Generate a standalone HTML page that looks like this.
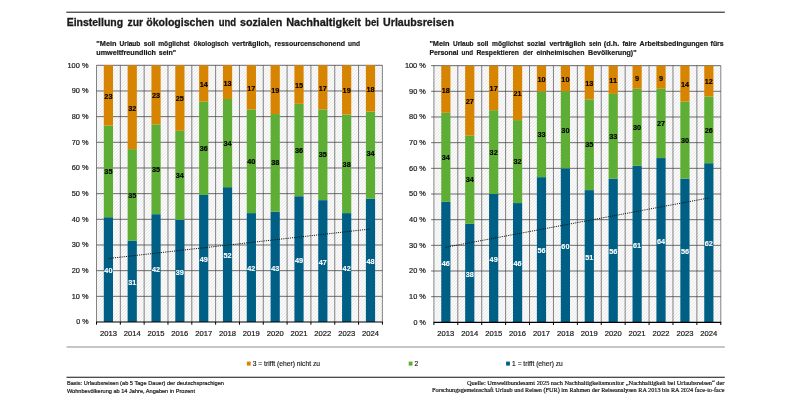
<!DOCTYPE html>
<html lang="de">
<head>
<meta charset="utf-8">
<title>Einstellung zur ökologischen und sozialen Nachhaltigkeit bei Urlaubsreisen</title>
<style>
html,body{margin:0;padding:0;background:#fff;}
body{width:800px;height:400px;overflow:hidden;}
svg{display:block;}
text{font-family:"Liberation Sans",sans-serif;fill:#1a1a1a;}
.title{font-size:10.9px;font-weight:bold;stroke:#1a1a1a;stroke-width:0.3px;}
.sub{font-size:7.6px;font-weight:bold;stroke:#1a1a1a;stroke-width:0.22px;}
.yl{font-size:7.1px;text-anchor:end;stroke:#1a1a1a;stroke-width:0.2px;}
.xl{font-size:7.5px;text-anchor:middle;stroke:#1a1a1a;stroke-width:0.2px;}
.dl{font-size:7.3px;font-weight:bold;text-anchor:middle;fill:#000;stroke:#000;stroke-width:0.15px;}
.dl.w{fill:#fff;stroke:#fff;stroke-width:0.1px;}
.lg{font-size:6.7px;stroke:#1a1a1a;stroke-width:0.15px;}
.fl{font-size:5.5px;stroke:#1a1a1a;stroke-width:0.2px;}
.fr{font-size:5.8px;stroke:#1a1a1a;stroke-width:0.2px;font-family:"Liberation Serif",serif;}
</style>
</head>
<body>
<svg width="800" height="400" viewBox="0 0 800 400">
<defs>
<pattern id="hatch" width="2.2" height="2.2" patternUnits="userSpaceOnUse" patternTransform="rotate(-45)">
<rect width="2.2" height="2.2" fill="#fbfbfb"/>
<rect width="2.2" height="0.7" fill="#e6e6e6"/>
</pattern>
</defs>
<rect width="800" height="400" fill="#fff"/>
<line x1="66.3" y1="12.2" x2="724.8" y2="12.2" stroke="#000" stroke-width="0.95"/>
<g class="title"><text x="66.7" y="25.6" textLength="56.4" lengthAdjust="spacingAndGlyphs">Einstellung</text> <text x="127.5" y="25.6" textLength="15.6" lengthAdjust="spacingAndGlyphs">zur</text> <text x="146.3" y="25.6" textLength="67.8" lengthAdjust="spacingAndGlyphs">ökologischen</text> <text x="218.7" y="25.6" textLength="17.5" lengthAdjust="spacingAndGlyphs">und</text> <text x="240" y="25.6" textLength="42.2" lengthAdjust="spacingAndGlyphs">sozialen</text> <text x="286.2" y="25.6" textLength="74.8" lengthAdjust="spacingAndGlyphs">Nachhaltigkeit</text> <text x="365" y="25.6" textLength="14" lengthAdjust="spacingAndGlyphs">bei</text> <text x="383.1" y="25.6" textLength="70.9" lengthAdjust="spacingAndGlyphs">Urlaubsreisen</text></g>
<g class="sub"><text x="96.3" y="45.6" textLength="20.2" lengthAdjust="spacingAndGlyphs">&quot;Mein</text> <text x="119.6" y="45.6" textLength="20.8" lengthAdjust="spacingAndGlyphs">Urlaub</text> <text x="143.8" y="45.6" textLength="11.4" lengthAdjust="spacingAndGlyphs">soll</text> <text x="158.2" y="45.6" textLength="31.4" lengthAdjust="spacingAndGlyphs">möglichst</text> <text x="193.6" y="45.6" textLength="34.9" lengthAdjust="spacingAndGlyphs">ökologisch</text> <text x="232" y="45.6" textLength="39" lengthAdjust="spacingAndGlyphs">verträglich,</text> <text x="274.6" y="45.6" textLength="70.4" lengthAdjust="spacingAndGlyphs">ressourcenschonend</text> <text x="348" y="45.6" textLength="12" lengthAdjust="spacingAndGlyphs">und</text></g>
<g class="sub"><text x="96.3" y="55.3" textLength="59.6" lengthAdjust="spacingAndGlyphs">umweltfreundlich</text> <text x="158.8" y="55.3" textLength="17.4" lengthAdjust="spacingAndGlyphs">sein&quot;</text></g>
<g class="sub"><text x="429.4" y="45.6" textLength="20.2" lengthAdjust="spacingAndGlyphs">&quot;Mein</text> <text x="453" y="45.6" textLength="20.6" lengthAdjust="spacingAndGlyphs">Urlaub</text> <text x="477" y="45.6" textLength="11.4" lengthAdjust="spacingAndGlyphs">soll</text> <text x="492" y="45.6" textLength="31.4" lengthAdjust="spacingAndGlyphs">möglichst</text> <text x="527" y="45.6" textLength="18.6" lengthAdjust="spacingAndGlyphs">sozial</text> <text x="549.4" y="45.6" textLength="36.2" lengthAdjust="spacingAndGlyphs">verträglich</text> <text x="589" y="45.6" textLength="12.2" lengthAdjust="spacingAndGlyphs">sein</text> <text x="603.8" y="45.6" textLength="15.6" lengthAdjust="spacingAndGlyphs">(d.h.</text> <text x="622.5" y="45.6" textLength="14" lengthAdjust="spacingAndGlyphs">faire</text> <text x="639.6" y="45.6" textLength="68.5" lengthAdjust="spacingAndGlyphs">Arbeitsbedingungen</text> <text x="710.6" y="45.6" textLength="13" lengthAdjust="spacingAndGlyphs">fürs</text></g>
<g class="sub"><text x="429.4" y="55.3" textLength="29" lengthAdjust="spacingAndGlyphs">Personal</text> <text x="461.6" y="55.3" textLength="11.4" lengthAdjust="spacingAndGlyphs">und</text> <text x="476.4" y="55.3" textLength="42.6" lengthAdjust="spacingAndGlyphs">Respektieren</text> <text x="523" y="55.3" textLength="10" lengthAdjust="spacingAndGlyphs">der</text> <text x="536.4" y="55.3" textLength="48" lengthAdjust="spacingAndGlyphs">einheimischen</text> <text x="588.1" y="55.3" textLength="48.4" lengthAdjust="spacingAndGlyphs">Bevölkerung)&quot;</text></g>
<rect x="96.5" y="65.3" width="285.9" height="256.7" fill="url(#hatch)"/>
<line x1="96.5" y1="296.33" x2="382.4" y2="296.33" stroke="#4a4a4a" stroke-width="0.8"/>
<line x1="96.5" y1="270.66" x2="382.4" y2="270.66" stroke="#4a4a4a" stroke-width="0.8"/>
<line x1="96.5" y1="244.99" x2="382.4" y2="244.99" stroke="#4a4a4a" stroke-width="0.8"/>
<line x1="96.5" y1="219.32" x2="382.4" y2="219.32" stroke="#4a4a4a" stroke-width="0.8"/>
<line x1="96.5" y1="193.65" x2="382.4" y2="193.65" stroke="#4a4a4a" stroke-width="0.8"/>
<line x1="96.5" y1="167.98" x2="382.4" y2="167.98" stroke="#4a4a4a" stroke-width="0.8"/>
<line x1="96.5" y1="142.31" x2="382.4" y2="142.31" stroke="#4a4a4a" stroke-width="0.8"/>
<line x1="96.5" y1="116.64" x2="382.4" y2="116.64" stroke="#4a4a4a" stroke-width="0.8"/>
<line x1="96.5" y1="90.97" x2="382.4" y2="90.97" stroke="#4a4a4a" stroke-width="0.8"/>
<line x1="96.5" y1="65.3" x2="382.4" y2="65.3" stroke="#444" stroke-width="0.8"/>
<line x1="96.5" y1="65.3" x2="96.5" y2="322" stroke="#3a3a3a" stroke-width="0.62"/>
<line x1="96.5" y1="322" x2="96.5" y2="324.7" stroke="#000" stroke-width="1"/>
<line x1="120.33" y1="65.3" x2="120.33" y2="322" stroke="#3a3a3a" stroke-width="0.62"/>
<line x1="120.33" y1="322" x2="120.33" y2="324.7" stroke="#000" stroke-width="1"/>
<line x1="144.15" y1="65.3" x2="144.15" y2="322" stroke="#3a3a3a" stroke-width="0.62"/>
<line x1="144.15" y1="322" x2="144.15" y2="324.7" stroke="#000" stroke-width="1"/>
<line x1="167.97" y1="65.3" x2="167.97" y2="322" stroke="#3a3a3a" stroke-width="0.62"/>
<line x1="167.97" y1="322" x2="167.97" y2="324.7" stroke="#000" stroke-width="1"/>
<line x1="191.8" y1="65.3" x2="191.8" y2="322" stroke="#3a3a3a" stroke-width="0.62"/>
<line x1="191.8" y1="322" x2="191.8" y2="324.7" stroke="#000" stroke-width="1"/>
<line x1="215.62" y1="65.3" x2="215.62" y2="322" stroke="#3a3a3a" stroke-width="0.62"/>
<line x1="215.62" y1="322" x2="215.62" y2="324.7" stroke="#000" stroke-width="1"/>
<line x1="239.45" y1="65.3" x2="239.45" y2="322" stroke="#3a3a3a" stroke-width="0.62"/>
<line x1="239.45" y1="322" x2="239.45" y2="324.7" stroke="#000" stroke-width="1"/>
<line x1="263.27" y1="65.3" x2="263.27" y2="322" stroke="#3a3a3a" stroke-width="0.62"/>
<line x1="263.27" y1="322" x2="263.27" y2="324.7" stroke="#000" stroke-width="1"/>
<line x1="287.1" y1="65.3" x2="287.1" y2="322" stroke="#3a3a3a" stroke-width="0.62"/>
<line x1="287.1" y1="322" x2="287.1" y2="324.7" stroke="#000" stroke-width="1"/>
<line x1="310.92" y1="65.3" x2="310.92" y2="322" stroke="#3a3a3a" stroke-width="0.62"/>
<line x1="310.92" y1="322" x2="310.92" y2="324.7" stroke="#000" stroke-width="1"/>
<line x1="334.75" y1="65.3" x2="334.75" y2="322" stroke="#3a3a3a" stroke-width="0.62"/>
<line x1="334.75" y1="322" x2="334.75" y2="324.7" stroke="#000" stroke-width="1"/>
<line x1="358.57" y1="65.3" x2="358.57" y2="322" stroke="#3a3a3a" stroke-width="0.62"/>
<line x1="358.57" y1="322" x2="358.57" y2="324.7" stroke="#000" stroke-width="1"/>
<line x1="382.4" y1="65.3" x2="382.4" y2="322" stroke="#3a3a3a" stroke-width="0.62"/>
<line x1="382.4" y1="322" x2="382.4" y2="324.7" stroke="#000" stroke-width="1"/>
<rect x="103.81" y="217.22" width="9.2" height="104.78" fill="#005F85"/>
<rect x="103.81" y="125.55" width="9.2" height="91.68" fill="#5EAD35"/>
<rect x="103.81" y="65.3" width="9.2" height="60.25" fill="#D78400"/>
<rect x="127.64" y="240.8" width="9.2" height="81.2" fill="#005F85"/>
<rect x="127.64" y="149.12" width="9.2" height="91.68" fill="#5EAD35"/>
<rect x="127.64" y="65.3" width="9.2" height="83.82" fill="#D78400"/>
<rect x="151.46" y="214.19" width="9.2" height="107.81" fill="#005F85"/>
<rect x="151.46" y="124.34" width="9.2" height="89.84" fill="#5EAD35"/>
<rect x="151.46" y="65.3" width="9.2" height="59.04" fill="#D78400"/>
<rect x="175.29" y="219.84" width="9.2" height="102.16" fill="#005F85"/>
<rect x="175.29" y="130.78" width="9.2" height="89.06" fill="#5EAD35"/>
<rect x="175.29" y="65.3" width="9.2" height="65.48" fill="#D78400"/>
<rect x="199.11" y="194.95" width="9.2" height="127.05" fill="#005F85"/>
<rect x="199.11" y="101.6" width="9.2" height="93.35" fill="#5EAD35"/>
<rect x="199.11" y="65.3" width="9.2" height="36.3" fill="#D78400"/>
<rect x="222.94" y="187.17" width="9.2" height="134.83" fill="#005F85"/>
<rect x="222.94" y="99.01" width="9.2" height="88.16" fill="#5EAD35"/>
<rect x="222.94" y="65.3" width="9.2" height="33.71" fill="#D78400"/>
<rect x="246.76" y="213.1" width="9.2" height="108.9" fill="#005F85"/>
<rect x="246.76" y="109.38" width="9.2" height="103.72" fill="#5EAD35"/>
<rect x="246.76" y="65.3" width="9.2" height="44.08" fill="#D78400"/>
<rect x="270.59" y="211.62" width="9.2" height="110.38" fill="#005F85"/>
<rect x="270.59" y="114.07" width="9.2" height="97.55" fill="#5EAD35"/>
<rect x="270.59" y="65.3" width="9.2" height="48.77" fill="#D78400"/>
<rect x="294.41" y="196.22" width="9.2" height="125.78" fill="#005F85"/>
<rect x="294.41" y="103.81" width="9.2" height="92.41" fill="#5EAD35"/>
<rect x="294.41" y="65.3" width="9.2" height="38.51" fill="#D78400"/>
<rect x="318.24" y="200.13" width="9.2" height="121.87" fill="#005F85"/>
<rect x="318.24" y="109.38" width="9.2" height="90.75" fill="#5EAD35"/>
<rect x="318.24" y="65.3" width="9.2" height="44.08" fill="#D78400"/>
<rect x="342.06" y="213.1" width="9.2" height="108.9" fill="#005F85"/>
<rect x="342.06" y="114.57" width="9.2" height="98.53" fill="#5EAD35"/>
<rect x="342.06" y="65.3" width="9.2" height="49.27" fill="#D78400"/>
<rect x="365.89" y="198.78" width="9.2" height="123.22" fill="#005F85"/>
<rect x="365.89" y="111.51" width="9.2" height="87.28" fill="#5EAD35"/>
<rect x="365.89" y="65.3" width="9.2" height="46.21" fill="#D78400"/>
<line x1="96.1" y1="322" x2="382.8" y2="322" stroke="#000" stroke-width="1.15"/>
<line x1="108.4" y1="258.5" x2="370.6" y2="229" stroke="#111" stroke-width="1" stroke-dasharray="1.1 1.1"/>
<text class="dl w" x="108.41" y="273.31">40</text>
<text class="dl" x="108.41" y="174.09">35</text>
<text class="dl" x="108.41" y="98.82">23</text>
<text class="dl w" x="132.24" y="285.1">31</text>
<text class="dl" x="132.24" y="197.66">35</text>
<text class="dl" x="132.24" y="110.61">32</text>
<text class="dl w" x="156.06" y="271.79">42</text>
<text class="dl" x="156.06" y="171.96">35</text>
<text class="dl" x="156.06" y="98.22">23</text>
<text class="dl w" x="179.89" y="274.62">39</text>
<text class="dl" x="179.89" y="178.01">34</text>
<text class="dl" x="179.89" y="101.44">25</text>
<text class="dl w" x="203.71" y="262.17">49</text>
<text class="dl" x="203.71" y="150.97">36</text>
<text class="dl" x="203.71" y="86.85">14</text>
<text class="dl w" x="227.54" y="258.28">52</text>
<text class="dl" x="227.54" y="145.79">34</text>
<text class="dl" x="227.54" y="85.55">13</text>
<text class="dl w" x="251.36" y="271.25">42</text>
<text class="dl" x="251.36" y="163.94">40</text>
<text class="dl" x="251.36" y="90.74">17</text>
<text class="dl w" x="275.19" y="270.51">43</text>
<text class="dl" x="275.19" y="164.55">38</text>
<text class="dl" x="275.19" y="93.09">19</text>
<text class="dl w" x="299.01" y="262.81">49</text>
<text class="dl" x="299.01" y="152.71">36</text>
<text class="dl" x="299.01" y="87.95">15</text>
<text class="dl w" x="322.84" y="264.77">47</text>
<text class="dl" x="322.84" y="157.46">35</text>
<text class="dl" x="322.84" y="90.74">17</text>
<text class="dl w" x="346.66" y="271.25">42</text>
<text class="dl" x="346.66" y="166.53">38</text>
<text class="dl" x="346.66" y="93.33">19</text>
<text class="dl w" x="370.49" y="264.09">48</text>
<text class="dl" x="370.49" y="156.35">34</text>
<text class="dl" x="370.49" y="91.8">18</text>
<text class="yl" x="88.5" y="324.4" textLength="12.3" lengthAdjust="spacingAndGlyphs">0 %</text>
<text class="yl" x="88.5" y="298.73" textLength="16.8" lengthAdjust="spacingAndGlyphs">10 %</text>
<text class="yl" x="88.5" y="273.06" textLength="16.8" lengthAdjust="spacingAndGlyphs">20 %</text>
<text class="yl" x="88.5" y="247.39" textLength="16.8" lengthAdjust="spacingAndGlyphs">30 %</text>
<text class="yl" x="88.5" y="221.72" textLength="16.8" lengthAdjust="spacingAndGlyphs">40 %</text>
<text class="yl" x="88.5" y="196.05" textLength="16.8" lengthAdjust="spacingAndGlyphs">50 %</text>
<text class="yl" x="88.5" y="170.38" textLength="16.8" lengthAdjust="spacingAndGlyphs">60 %</text>
<text class="yl" x="88.5" y="144.71" textLength="16.8" lengthAdjust="spacingAndGlyphs">70 %</text>
<text class="yl" x="88.5" y="119.04" textLength="16.8" lengthAdjust="spacingAndGlyphs">80 %</text>
<text class="yl" x="88.5" y="93.37" textLength="16.8" lengthAdjust="spacingAndGlyphs">90 %</text>
<text class="yl" x="88.5" y="67.7" textLength="21.0" lengthAdjust="spacingAndGlyphs">100 %</text>
<text class="xl" x="108.41" y="335.6" textLength="17" lengthAdjust="spacingAndGlyphs">2013</text>
<text class="xl" x="132.24" y="335.6" textLength="17" lengthAdjust="spacingAndGlyphs">2014</text>
<text class="xl" x="156.06" y="335.6" textLength="17" lengthAdjust="spacingAndGlyphs">2015</text>
<text class="xl" x="179.89" y="335.6" textLength="17" lengthAdjust="spacingAndGlyphs">2016</text>
<text class="xl" x="203.71" y="335.6" textLength="17" lengthAdjust="spacingAndGlyphs">2017</text>
<text class="xl" x="227.54" y="335.6" textLength="17" lengthAdjust="spacingAndGlyphs">2018</text>
<text class="xl" x="251.36" y="335.6" textLength="17" lengthAdjust="spacingAndGlyphs">2019</text>
<text class="xl" x="275.19" y="335.6" textLength="17" lengthAdjust="spacingAndGlyphs">2020</text>
<text class="xl" x="299.01" y="335.6" textLength="17" lengthAdjust="spacingAndGlyphs">2021</text>
<text class="xl" x="322.84" y="335.6" textLength="17" lengthAdjust="spacingAndGlyphs">2022</text>
<text class="xl" x="346.66" y="335.6" textLength="17" lengthAdjust="spacingAndGlyphs">2023</text>
<text class="xl" x="370.49" y="335.6" textLength="17" lengthAdjust="spacingAndGlyphs">2024</text>
<rect x="433.9" y="65.65" width="286.9" height="256.7" fill="url(#hatch)"/>
<line x1="431.1" y1="296.68" x2="720.8" y2="296.68" stroke="#4a4a4a" stroke-width="0.8"/>
<line x1="431.1" y1="271.01" x2="720.8" y2="271.01" stroke="#4a4a4a" stroke-width="0.8"/>
<line x1="431.1" y1="245.34" x2="720.8" y2="245.34" stroke="#4a4a4a" stroke-width="0.8"/>
<line x1="431.1" y1="219.67" x2="720.8" y2="219.67" stroke="#4a4a4a" stroke-width="0.8"/>
<line x1="431.1" y1="194" x2="720.8" y2="194" stroke="#4a4a4a" stroke-width="0.8"/>
<line x1="431.1" y1="168.33" x2="720.8" y2="168.33" stroke="#4a4a4a" stroke-width="0.8"/>
<line x1="431.1" y1="142.66" x2="720.8" y2="142.66" stroke="#4a4a4a" stroke-width="0.8"/>
<line x1="431.1" y1="116.99" x2="720.8" y2="116.99" stroke="#4a4a4a" stroke-width="0.8"/>
<line x1="431.1" y1="91.32" x2="720.8" y2="91.32" stroke="#4a4a4a" stroke-width="0.8"/>
<line x1="431.1" y1="65.65" x2="720.8" y2="65.65" stroke="#444" stroke-width="0.8"/>
<line x1="433.9" y1="65.65" x2="433.9" y2="322.35" stroke="#3a3a3a" stroke-width="0.62"/>
<line x1="433.9" y1="322.35" x2="433.9" y2="325.05" stroke="#000" stroke-width="1"/>
<line x1="457.81" y1="65.65" x2="457.81" y2="322.35" stroke="#3a3a3a" stroke-width="0.62"/>
<line x1="457.81" y1="322.35" x2="457.81" y2="325.05" stroke="#000" stroke-width="1"/>
<line x1="481.72" y1="65.65" x2="481.72" y2="322.35" stroke="#3a3a3a" stroke-width="0.62"/>
<line x1="481.72" y1="322.35" x2="481.72" y2="325.05" stroke="#000" stroke-width="1"/>
<line x1="505.62" y1="65.65" x2="505.62" y2="322.35" stroke="#3a3a3a" stroke-width="0.62"/>
<line x1="505.62" y1="322.35" x2="505.62" y2="325.05" stroke="#000" stroke-width="1"/>
<line x1="529.53" y1="65.65" x2="529.53" y2="322.35" stroke="#3a3a3a" stroke-width="0.62"/>
<line x1="529.53" y1="322.35" x2="529.53" y2="325.05" stroke="#000" stroke-width="1"/>
<line x1="553.44" y1="65.65" x2="553.44" y2="322.35" stroke="#3a3a3a" stroke-width="0.62"/>
<line x1="553.44" y1="322.35" x2="553.44" y2="325.05" stroke="#000" stroke-width="1"/>
<line x1="577.35" y1="65.65" x2="577.35" y2="322.35" stroke="#3a3a3a" stroke-width="0.62"/>
<line x1="577.35" y1="322.35" x2="577.35" y2="325.05" stroke="#000" stroke-width="1"/>
<line x1="601.26" y1="65.65" x2="601.26" y2="322.35" stroke="#3a3a3a" stroke-width="0.62"/>
<line x1="601.26" y1="322.35" x2="601.26" y2="325.05" stroke="#000" stroke-width="1"/>
<line x1="625.17" y1="65.65" x2="625.17" y2="322.35" stroke="#3a3a3a" stroke-width="0.62"/>
<line x1="625.17" y1="322.35" x2="625.17" y2="325.05" stroke="#000" stroke-width="1"/>
<line x1="649.07" y1="65.65" x2="649.07" y2="322.35" stroke="#3a3a3a" stroke-width="0.62"/>
<line x1="649.07" y1="322.35" x2="649.07" y2="325.05" stroke="#000" stroke-width="1"/>
<line x1="672.98" y1="65.65" x2="672.98" y2="322.35" stroke="#3a3a3a" stroke-width="0.62"/>
<line x1="672.98" y1="322.35" x2="672.98" y2="325.05" stroke="#000" stroke-width="1"/>
<line x1="696.89" y1="65.65" x2="696.89" y2="322.35" stroke="#3a3a3a" stroke-width="0.62"/>
<line x1="696.89" y1="322.35" x2="696.89" y2="325.05" stroke="#000" stroke-width="1"/>
<line x1="720.8" y1="65.65" x2="720.8" y2="322.35" stroke="#3a3a3a" stroke-width="0.62"/>
<line x1="720.8" y1="322.35" x2="720.8" y2="325.05" stroke="#000" stroke-width="1"/>
<rect x="441.25" y="201.86" width="9.2" height="120.49" fill="#005F85"/>
<rect x="441.25" y="112.8" width="9.2" height="89.06" fill="#5EAD35"/>
<rect x="441.25" y="65.65" width="9.2" height="47.15" fill="#D78400"/>
<rect x="465.16" y="223.82" width="9.2" height="98.53" fill="#005F85"/>
<rect x="465.16" y="135.66" width="9.2" height="88.16" fill="#5EAD35"/>
<rect x="465.16" y="65.65" width="9.2" height="70.01" fill="#D78400"/>
<rect x="489.07" y="194" width="9.2" height="128.35" fill="#005F85"/>
<rect x="489.07" y="110.18" width="9.2" height="83.82" fill="#5EAD35"/>
<rect x="489.07" y="65.65" width="9.2" height="44.53" fill="#D78400"/>
<rect x="512.98" y="203.08" width="9.2" height="119.27" fill="#005F85"/>
<rect x="512.98" y="120.1" width="9.2" height="82.97" fill="#5EAD35"/>
<rect x="512.98" y="65.65" width="9.2" height="54.45" fill="#D78400"/>
<rect x="536.89" y="177.15" width="9.2" height="145.2" fill="#005F85"/>
<rect x="536.89" y="91.58" width="9.2" height="85.57" fill="#5EAD35"/>
<rect x="536.89" y="65.65" width="9.2" height="25.93" fill="#D78400"/>
<rect x="560.8" y="168.33" width="9.2" height="154.02" fill="#005F85"/>
<rect x="560.8" y="91.32" width="9.2" height="77.01" fill="#5EAD35"/>
<rect x="560.8" y="65.65" width="9.2" height="25.67" fill="#D78400"/>
<rect x="584.7" y="190.11" width="9.2" height="132.24" fill="#005F85"/>
<rect x="584.7" y="99.36" width="9.2" height="90.75" fill="#5EAD35"/>
<rect x="584.7" y="65.65" width="9.2" height="33.71" fill="#D78400"/>
<rect x="608.61" y="178.6" width="9.2" height="143.75" fill="#005F85"/>
<rect x="608.61" y="93.89" width="9.2" height="84.71" fill="#5EAD35"/>
<rect x="608.61" y="65.65" width="9.2" height="28.24" fill="#D78400"/>
<rect x="632.52" y="165.76" width="9.2" height="156.59" fill="#005F85"/>
<rect x="632.52" y="88.75" width="9.2" height="77.01" fill="#5EAD35"/>
<rect x="632.52" y="65.65" width="9.2" height="23.1" fill="#D78400"/>
<rect x="656.43" y="158.06" width="9.2" height="164.29" fill="#005F85"/>
<rect x="656.43" y="88.75" width="9.2" height="69.31" fill="#5EAD35"/>
<rect x="656.43" y="65.65" width="9.2" height="23.1" fill="#D78400"/>
<rect x="680.34" y="178.6" width="9.2" height="143.75" fill="#005F85"/>
<rect x="680.34" y="101.59" width="9.2" height="77.01" fill="#5EAD35"/>
<rect x="680.34" y="65.65" width="9.2" height="35.94" fill="#D78400"/>
<rect x="704.25" y="163.2" width="9.2" height="159.15" fill="#005F85"/>
<rect x="704.25" y="96.45" width="9.2" height="66.74" fill="#5EAD35"/>
<rect x="704.25" y="65.65" width="9.2" height="30.8" fill="#D78400"/>
<line x1="433.5" y1="322.35" x2="721.2" y2="322.35" stroke="#000" stroke-width="1.15"/>
<line x1="445.5" y1="247.3" x2="709.5" y2="197.8" stroke="#111" stroke-width="1" stroke-dasharray="1.1 1.1"/>
<text class="dl w" x="445.85" y="265.8">46</text>
<text class="dl" x="445.85" y="160.03">34</text>
<text class="dl" x="445.85" y="92.62">18</text>
<text class="dl w" x="469.76" y="276.78">38</text>
<text class="dl" x="469.76" y="182.44">34</text>
<text class="dl" x="469.76" y="104.05">27</text>
<text class="dl w" x="493.67" y="261.88">49</text>
<text class="dl" x="493.67" y="154.79">32</text>
<text class="dl" x="493.67" y="91.31">17</text>
<text class="dl w" x="517.58" y="266.41">46</text>
<text class="dl" x="517.58" y="164.29">32</text>
<text class="dl" x="517.58" y="96.28">21</text>
<text class="dl w" x="541.49" y="253.45">56</text>
<text class="dl" x="541.49" y="137.06">33</text>
<text class="dl" x="541.49" y="82.01">10</text>
<text class="dl w" x="565.4" y="249.04">60</text>
<text class="dl" x="565.4" y="132.53">30</text>
<text class="dl" x="565.4" y="81.89">10</text>
<text class="dl w" x="589.3" y="259.93">51</text>
<text class="dl" x="589.3" y="147.43">35</text>
<text class="dl" x="589.3" y="85.9">13</text>
<text class="dl w" x="613.21" y="254.17">56</text>
<text class="dl" x="613.21" y="138.94">33</text>
<text class="dl" x="613.21" y="83.17">11</text>
<text class="dl w" x="637.12" y="247.76">61</text>
<text class="dl" x="637.12" y="129.96">30</text>
<text class="dl" x="637.12" y="80.6">9</text>
<text class="dl w" x="661.03" y="243.91">64</text>
<text class="dl" x="661.03" y="126.11">27</text>
<text class="dl" x="661.03" y="80.6">9</text>
<text class="dl w" x="684.94" y="254.17">56</text>
<text class="dl" x="684.94" y="142.79">30</text>
<text class="dl" x="684.94" y="87.02">14</text>
<text class="dl w" x="708.85" y="246.47">62</text>
<text class="dl" x="708.85" y="132.53">26</text>
<text class="dl" x="708.85" y="84.45">12</text>
<text class="yl" x="425.9" y="324.75" textLength="12.3" lengthAdjust="spacingAndGlyphs">0 %</text>
<text class="yl" x="425.9" y="299.08" textLength="16.8" lengthAdjust="spacingAndGlyphs">10 %</text>
<text class="yl" x="425.9" y="273.41" textLength="16.8" lengthAdjust="spacingAndGlyphs">20 %</text>
<text class="yl" x="425.9" y="247.74" textLength="16.8" lengthAdjust="spacingAndGlyphs">30 %</text>
<text class="yl" x="425.9" y="222.07" textLength="16.8" lengthAdjust="spacingAndGlyphs">40 %</text>
<text class="yl" x="425.9" y="196.4" textLength="16.8" lengthAdjust="spacingAndGlyphs">50 %</text>
<text class="yl" x="425.9" y="170.73" textLength="16.8" lengthAdjust="spacingAndGlyphs">60 %</text>
<text class="yl" x="425.9" y="145.06" textLength="16.8" lengthAdjust="spacingAndGlyphs">70 %</text>
<text class="yl" x="425.9" y="119.39" textLength="16.8" lengthAdjust="spacingAndGlyphs">80 %</text>
<text class="yl" x="425.9" y="93.72" textLength="16.8" lengthAdjust="spacingAndGlyphs">90 %</text>
<text class="yl" x="425.9" y="68.05" textLength="21.0" lengthAdjust="spacingAndGlyphs">100 %</text>
<text class="xl" x="445.85" y="335.95" textLength="17" lengthAdjust="spacingAndGlyphs">2013</text>
<text class="xl" x="469.76" y="335.95" textLength="17" lengthAdjust="spacingAndGlyphs">2014</text>
<text class="xl" x="493.67" y="335.95" textLength="17" lengthAdjust="spacingAndGlyphs">2015</text>
<text class="xl" x="517.58" y="335.95" textLength="17" lengthAdjust="spacingAndGlyphs">2016</text>
<text class="xl" x="541.49" y="335.95" textLength="17" lengthAdjust="spacingAndGlyphs">2017</text>
<text class="xl" x="565.4" y="335.95" textLength="17" lengthAdjust="spacingAndGlyphs">2018</text>
<text class="xl" x="589.3" y="335.95" textLength="17" lengthAdjust="spacingAndGlyphs">2019</text>
<text class="xl" x="613.21" y="335.95" textLength="17" lengthAdjust="spacingAndGlyphs">2020</text>
<text class="xl" x="637.12" y="335.95" textLength="17" lengthAdjust="spacingAndGlyphs">2021</text>
<text class="xl" x="661.03" y="335.95" textLength="17" lengthAdjust="spacingAndGlyphs">2022</text>
<text class="xl" x="684.94" y="335.95" textLength="17" lengthAdjust="spacingAndGlyphs">2023</text>
<text class="xl" x="708.85" y="335.95" textLength="17" lengthAdjust="spacingAndGlyphs">2024</text>
<line x1="66.5" y1="347" x2="724.8" y2="347" stroke="#8e8e8e" stroke-width="1.05"/>
<rect x="246.9" y="361.6" width="3.8" height="4" fill="#D78400"/>
<text class="lg" x="252.7" y="365.7" textLength="67.3" lengthAdjust="spacingAndGlyphs">3 = trifft (eher) nicht zu</text>
<rect x="408.7" y="361.6" width="3.8" height="4" fill="#5EAD35"/>
<text class="lg" x="414.6" y="365.7">2</text>
<rect x="506.1" y="361.6" width="3.8" height="4" fill="#005F85"/>
<text class="lg" x="512.1" y="365.7" textLength="50.6" lengthAdjust="spacingAndGlyphs">1 = trifft (eher) zu</text>
<line x1="66.5" y1="377.2" x2="724.8" y2="377.2" stroke="#111" stroke-width="1.05"/>
<text class="fl" x="66.9" y="385.4" textLength="157.1" lengthAdjust="spacingAndGlyphs">Basis: Urlaubsreisen (ab 5 Tage Dauer) der deutschsprachigen</text>
<text class="fl" x="66.9" y="393.1" textLength="128.1" lengthAdjust="spacingAndGlyphs">Wohnbevölkerung ab 14 Jahre, Angaben in Prozent</text>
<text class="fr" x="467" y="384.8" textLength="257.4" lengthAdjust="spacingAndGlyphs">Quelle: Umweltbundesamt 2025 nach Nachhaltigkeitsmonitor „Nachhaltigkeit bei Urlaubsreisen“ der</text>
<text class="fr" x="432" y="392" textLength="292.4" lengthAdjust="spacingAndGlyphs">Forschungsgemeinschaft Urlaub und Reisen (FUR) im Rahmen der Reiseanalysen RA 2013 bis RA 2024 face-to-face</text>
</svg>
</body>
</html>
